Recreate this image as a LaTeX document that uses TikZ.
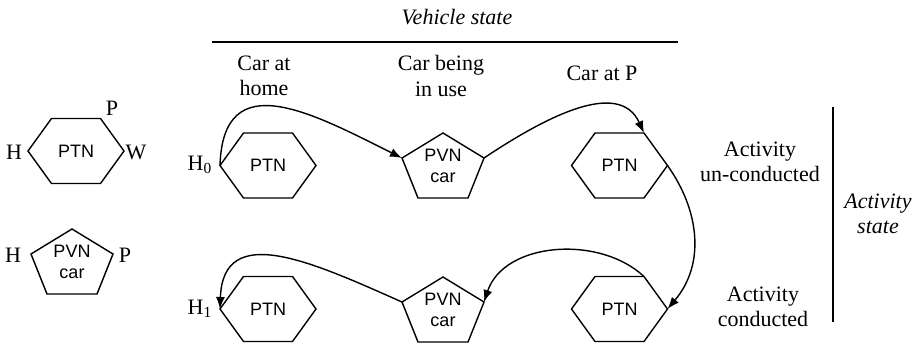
\documentclass[tikz,border=0pt]{standalone}
\usepackage{fontspec}
\setmainfont{Liberation Serif}
\setsansfont{Liberation Sans}
\usetikzlibrary{arrows.meta}
\newcommand{\ptnhex}[2]{%
  \begin{scope}[shift={(#2)}]
    \draw (-48,0) coordinate (#1-w) -- (-24.5,-32.5) coordinate (#1-nw) -- (24.5,-32.5) coordinate (#1-ne)
      -- (48,0) coordinate (#1-e) -- (24.5,32.5) coordinate (#1-se) -- (-24.5,32.5) coordinate (#1-sw) -- cycle;
    \node[net] (#1) at (0,0) {PTN};
  \end{scope}}
\newcommand{\pvnpent}[2]{%
  \begin{scope}[shift={(#2)}]
    \draw (0,-33) coordinate (#1-n) -- (41,-8) coordinate (#1-ne) -- (25,32) coordinate (#1-se)
      -- (-25,32) coordinate (#1-sw) -- (-41,-8) coordinate (#1-nw) -- cycle;
    \node[net] (#1) at (0,0) {PVN\\car};
  \end{scope}}

\begin{document}
\begin{tikzpicture}[x=0.5pt,y=-0.5pt,line width=0.7pt,
		net/.style={font=\sffamily\fontsize{9}{10.5}\selectfont,align=center,inner sep=0pt},
		lbl/.style={font=\fontsize{11}{12.8}\selectfont,align=center,inner sep=0pt},
		flow/.style={-{Latex[length=6pt,width=4.5pt]}}]
				\useasboundingbox (0,0) rectangle (918,345);
				
				% legend
				\ptnhex{lhex}{76,151};
				\node[lbl] (lhexh) at (14,152) {H};
				\node[lbl] (lhexw) at (136,152) {W};
				\node[lbl] (lhexp) at (112,108) {P};
				\pvnpent{lpent}{72,262};
				\node[lbl] (lpenth) at (13,255) {H};
				\node[lbl] (lpentp) at (125,255) {P};
				
				% vehicle state
				\node[lbl,font=\itshape\fontsize{11}{12.8}\selectfont] (vstate) at (457,17) {Vehicle state};
				\draw (212,42) coordinate (vl) -- (678,42) coordinate (vr);
				\node[lbl] (home) at (264,76) {Car at\\home};
				\node[lbl] (inuse) at (441,76) {Car being\\in use};
				\node[lbl] (atp) at (602,73) {Car at P};
				
				% activity state
				\node[lbl] (uncond) at (760,162) {Activity\\un-conducted};
				\node[lbl] (cond) at (763,307) {Activity\\conducted};
				\draw (833,107) coordinate (at) -- (833,322) coordinate (ab);
				\node[lbl,font=\itshape\fontsize{11}{12.8}\selectfont] (astate) at (878,214) {Activity\\state};
				
				% states
				\ptnhex{h0}{268,165.5};
				\pvnpent{car0}{443,166};
				\ptnhex{p0}{619.5,165.5};
				\ptnhex{h1}{268,309};
				\pvnpent{car1}{443,310};
				\ptnhex{p1}{619.5,309};
				\node[lbl] (h0lbl) at (200,165) {H\textsubscript{0}};
				\node[lbl] (h1lbl) at (200,309) {H\textsubscript{1}};
				
				% transitions
				\draw[flow] (h0-w) .. controls +(3,-101) and +(-90,-45) .. (car0-nw);
				\draw[flow] (car0-ne) .. controls +(60,-40) and +(-25,-55) .. (p0-ne);
				\draw[flow] (p0-e) .. controls +(32,45) and +(38,-45) .. (p1-e);
				\draw[flow] (p1-ne) .. controls +(-45,-42) and +(20,-60) .. (car1-ne);
				\draw[flow] (car1-nw) .. controls +(-90,-40) and +(3,-88) .. (h1-w);
				
				\end{tikzpicture}
\end{document}
